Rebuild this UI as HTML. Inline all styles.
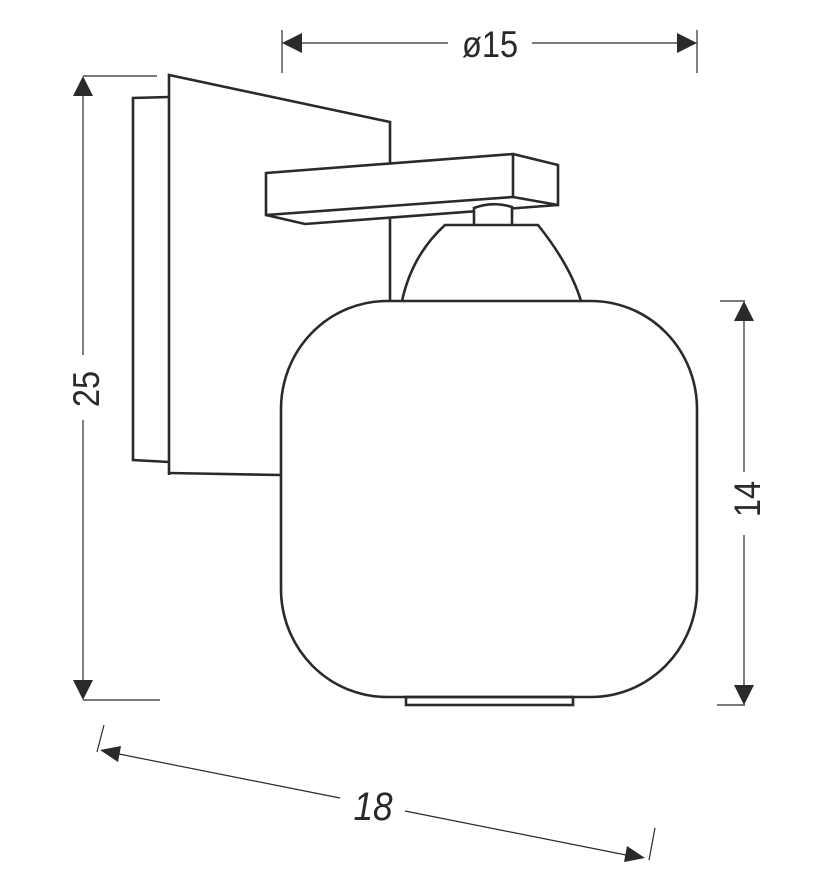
<!DOCTYPE html>
<html><head><meta charset="utf-8"><style>html,body{margin:0;padding:0;background:#fff}</style></head><body>
<svg width="828" height="886" viewBox="0 0 828 886" xmlns="http://www.w3.org/2000/svg">
<g fill="none" stroke="#2a2a2a" stroke-width="2.6" stroke-linejoin="miter">
  <polyline points="169,97 133,98 133,460 169,462"/>
  <polyline points="169,475 169,75 390,122 390,164"/>
  <line x1="390" y1="219" x2="390" y2="301"/>
  <line x1="169" y1="473" x2="281" y2="475"/>
  <polygon points="266,173 513,154 513,197 266,215" fill="#fff"/>
  <polyline points="513,154 558,165 558,205 513,197"/>
  <polyline points="266,215 305,224 558,205"/>
  <path d="M474,225 L474,208 Q493,201 512,207 L512,225" fill="#fff"/>
  <path d="M402,301 Q412,255 445,225 L538,225 Q570,265 581,301" fill="#fff"/>
  <rect x="281" y="301" width="416" height="396" rx="106" ry="108" fill="#fff"/>
  <rect x="406" y="697" width="167" height="8"/>
</g>
<g stroke="#2a2a2a" stroke-width="1.2" fill="none">
  <line x1="282" y1="30" x2="282" y2="73"/>
  <line x1="697" y1="30" x2="697" y2="73"/>
  <line x1="300" y1="43" x2="448" y2="43"/>
  <line x1="532" y1="43" x2="680" y2="43"/>
  <line x1="83" y1="76" x2="157" y2="76"/>
  <line x1="83" y1="700" x2="160" y2="700"/>
  <line x1="83" y1="95" x2="83" y2="355"/>
  <line x1="83" y1="420" x2="83" y2="682"/>
  <line x1="720" y1="301" x2="745" y2="301"/>
  <line x1="717" y1="705" x2="745" y2="705"/>
  <line x1="744" y1="318" x2="744" y2="472"/>
  <line x1="744" y1="535" x2="744" y2="688"/>
  <line x1="97" y1="752" x2="104" y2="725"/>
  <line x1="649" y1="860" x2="655" y2="828"/>
  <line x1="119" y1="754" x2="340" y2="798"/>
  <line x1="405" y1="811" x2="626" y2="855"/>
</g>
<g fill="#2a2a2a">
  <polygon points="282,43 302,33 302,53"/>
  <polygon points="697,43 677,33 677,53"/>
  <polygon points="83,76 73,96 93,96"/>
  <polygon points="83,700 73,680 93,680"/>
  <polygon points="744,301 734,321 754,321"/>
  <polygon points="744,705 734,685 754,685"/>
  <polygon points="100,750 118,762 121,746"/>
  <polygon points="645,858 624,862 627,846"/>
</g>
<g font-family="Liberation Sans, sans-serif" fill="#2a2a2a">
  <text transform="translate(490 57) scale(0.88 1)" font-size="37" text-anchor="middle">ø15</text>
  <text transform="translate(99 389) rotate(-90) scale(0.88 1)" font-size="37" text-anchor="middle">25</text>
  <text transform="translate(760 499) rotate(-90) scale(0.88 1)" font-size="37" text-anchor="middle">14</text>
  <text transform="translate(373 820) scale(0.88 1)" font-size="40" font-style="italic" text-anchor="middle">18</text>
</g>
</svg>
</body></html>
